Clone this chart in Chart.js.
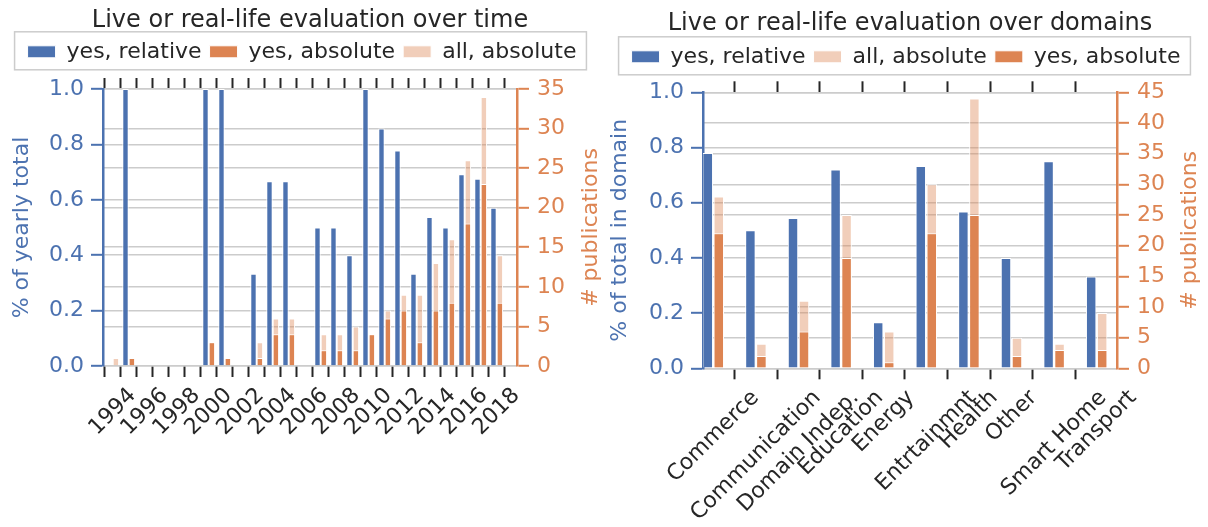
<!DOCTYPE html>
<html>
<head>
<meta charset="utf-8">
<script src="https://cdn.jsdelivr.net/npm/chart.js@4.4.1/dist/chart.umd.min.js"></script>
<style>
  html, body { margin: 0; padding: 0; background: #fff; }
  #wrap { position: relative; width: 1208px; height: 527px; }
  canvas { position: absolute; top: 0; }
  #c-time { left: 0; }
  #c-domain { left: 604px; }
</style>
</head>
<body>
<div id="wrap">
  <canvas id="c-time" width="604" height="527"></canvas>
  <canvas id="c-domain" width="604" height="527"></canvas>
</div>
<script>
const BLUE = "#4c72b0", ORANGE = "#dd8452", LIGHT = "rgba(221,132,82,0.4)", INK = "#262626", GRID = "#cccccc";

// over time: one slot per year, labels only on even years
const yearLabels = ["1994", "", "1996", "", "1998", "", "2000", "", "2002", "", "2004", "", "2006", "", "2008", "", "2010", "", "2012", "", "2014", "", "2016", "", "2018", ""];
const yearYesRel = [0, 1, null, null, null, null, 1, 1, null, 0.333, 0.667, 0.667, null, 0.5, 0.5, 0.4, 1, 0.857, 0.778, 0.333, 0.538, 0.5, 0.692, 0.676, 0.571, null];
const yearYesAbs = [0, 1, 0, 0, 0, 0, 3, 1, 0, 1, 4, 4, 0, 2, 2, 2, 4, 6, 7, 3, 7, 8, 18, 23, 8, 0];
const yearAllAbs = [1, 1, 0, 0, 0, 0, 3, 1, 0, 3, 6, 6, 0, 4, 4, 5, 4, 7, 9, 9, 13, 16, 26, 34, 14, 0];

// over domains
const domainLabels = ["Commerce", "Communication", "Domain Indep.", "Education", "Energy", "Entrtainmnt", "Health", "Other", "Smart Home", "Transport"];
const domainYesRel = [0.78, 0.5, 0.545, 0.72, 0.167, 0.733, 0.568, 0.4, 0.75, 0.333];
const domainAllAbs = [28, 4, 11, 25, 6, 30, 44, 5, 4, 9];
const domainYesAbs = [22, 2, 6, 18, 1, 22, 25, 2, 3, 3];

Chart.defaults.font.family = '"DejaVu Sans", sans-serif';
Chart.defaults.font.size = 22;
Chart.defaults.color = INK;

const points = (arr) => arr.map((v, i) => ({ x: i, y: v }));

// title over the plot area, rotated centred x labels, right axis title (reads upwards), legend frame
const decor = {
  id: "decor",
  afterDraw(chart, args, o) {
    const { ctx, chartArea, scales } = chart;
    ctx.save();
    ctx.textAlign = "center";
    ctx.textBaseline = "middle";
    ctx.fillStyle = INK;
    ctx.font = '24px "DejaVu Sans"';
    ctx.fillText(o.title, (chartArea.left + chartArea.right) / 2, o.titleY);

    ctx.font = '22px "DejaVu Sans"';
    scales.x.ticks.forEach((t) => {
      const text = o.labels[t.value];
      if (!text) return;
      const w = ctx.measureText(text).width;
      const half = ((w + 25.6) * Math.SQRT1_2) / 2;
      ctx.save();
      ctx.translate(scales.x.getPixelForValue(t.value), chartArea.bottom + o.gap + half);
      ctx.rotate(-Math.PI / 4);
      ctx.fillText(text, 0, 0);
      ctx.restore();
    });

    ctx.fillStyle = ORANGE;
    ctx.save();
    ctx.translate(o.rightTitleX, (chartArea.top + chartArea.bottom) / 2);
    ctx.rotate(-Math.PI / 2);
    ctx.fillText(o.rightTitle, 0, 0);
    ctx.restore();

    const hb = chart.legend.legendHitBoxes;
    const first = hb[0], last = hb[hb.length - 1];
    const x0 = first.left - 13, x1 = last.left + last.width + 10;
    ctx.strokeStyle = GRID;
    ctx.lineWidth = 1.5;
    ctx.strokeRect(x0, first.top - 9, x1 - x0, first.height + 16);
    ctx.restore();
  },
};

function build(el, p) {
  const tickValues = p.labels.map((_, i) => i);
  const setTicks = (scale) => {
    scale.ticks = tickValues.map((v) => ({ value: v }));
  };
  const bar = { borderColor: "#ffffff", borderWidth: 1, categoryPercentage: p.catPct, barPercentage: p.barPct, xAxisID: "x" };
  const rel = { ...bar, label: "yes, relative", data: points(p.rel), backgroundColor: BLUE, yAxisID: "y", stack: "a", order: 0 };
  const yes = { ...bar, label: "yes, absolute", data: points(p.yes), backgroundColor: ORANGE, yAxisID: "y2", stack: "b", order: 1 };
  const all = { ...bar, label: "all, absolute", data: points(p.all), backgroundColor: LIGHT, yAxisID: "y2", stack: "b", order: 2 };
  const datasets = p.allFirst ? [rel, all, yes] : [rel, yes, all];
  const xTicks = { drawOnChartArea: false, tickLength: 11, tickColor: INK, tickWidth: 2 };

  return new Chart(el, {
    type: "bar",
    data: { datasets },
    options: {
      responsive: false,
      animation: false,
      devicePixelRatio: 1,
      layout: { padding: { top: p.titleH, left: 0, right: 0, bottom: 0 } },
      plugins: {
        title: { display: false },
        legend: {
          labels: { boxWidth: 28, boxHeight: 12, padding: 8, color: INK, font: { size: 22 }, sort: (a, b) => a.datasetIndex - b.datasetIndex },
        },
        tooltip: { enabled: false },
        decor: { title: p.title, titleY: p.titleY, labels: p.labels, rightTitle: "# publications", rightTitleX: p.rightTitleX, gap: 17 },
      },
      scales: {
        x: {
          type: "linear", min: p.xMin, max: p.xMax, offset: false,
          afterBuildTicks: setTicks,
          afterFit: (s) => { s.height = p.bottomH; },
          ticks: { display: false },
          border: { display: false },
          grid: xTicks,
        },
        x2: {
          type: "linear", position: "top", min: p.xMin, max: p.xMax, offset: false,
          afterBuildTicks: setTicks,
          afterFit: (s) => { s.height = p.topH; },
          ticks: { display: false },
          border: { display: false },
          grid: xTicks,
        },
        y: {
          position: "left", min: 0, max: 1, stacked: false,
          afterFit: (s) => { s.width = p.leftW; },
          ticks: { color: BLUE, padding: 7, stepSize: 0.2, callback: (v) => v.toFixed(1) },
          grid: { color: GRID, lineWidth: 1.6, tickColor: BLUE, tickLength: 12, tickWidth: 2 },
          border: { color: BLUE, width: 2.5 },
          title: { display: true, text: p.yTitle, color: BLUE, font: { size: 22 }, padding: { top: p.yTitlePad, bottom: 0 } },
        },
        y2: {
          position: "right", min: 0, max: p.y2Max, stacked: false,
          afterFit: (s) => { s.width = p.rightW; },
          ticks: { color: ORANGE, padding: 8, stepSize: 5 },
          grid: { color: GRID, lineWidth: 1.6, tickColor: ORANGE, tickLength: 12, tickWidth: 2 },
          border: { color: ORANGE, width: 2.5 },
        },
      },
    },
    plugins: [decor],
  });
}

build(document.getElementById("c-time"), {
  title: "Live or real-life evaluation over time",
  yTitle: "% of yearly total",
  labels: yearLabels, rel: yearYesRel, yes: yearYesAbs, all: yearAllAbs,
  allFirst: false,
  xMin: -0.606, xMax: 25.27, y2Max: 35,
  catPct: 0.8, barPct: 1.0,
  leftW: 103, rightW: 87, topH: 16.2, bottomH: 161,
  titleH: 32.8, titleY: 21, yTitlePad: 9, rightTitleX: 591,
});

build(document.getElementById("c-domain"), {
  title: "Live or real-life evaluation over domains",
  yTitle: "% of total in domain",
  labels: domainLabels, rel: domainYesRel, yes: domainYesAbs, all: domainAllAbs,
  allFirst: true,
  xMin: -0.242, xMax: 9.477, y2Max: 45,
  catPct: 0.516, barPct: 0.95,
  leftW: 99, rightW: 91, topH: 14.5, bottomH: 158.7,
  titleH: 37.8, titleY: 24, yTitlePad: 3, rightTitleX: 586,
});
</script>
</body>
</html>
